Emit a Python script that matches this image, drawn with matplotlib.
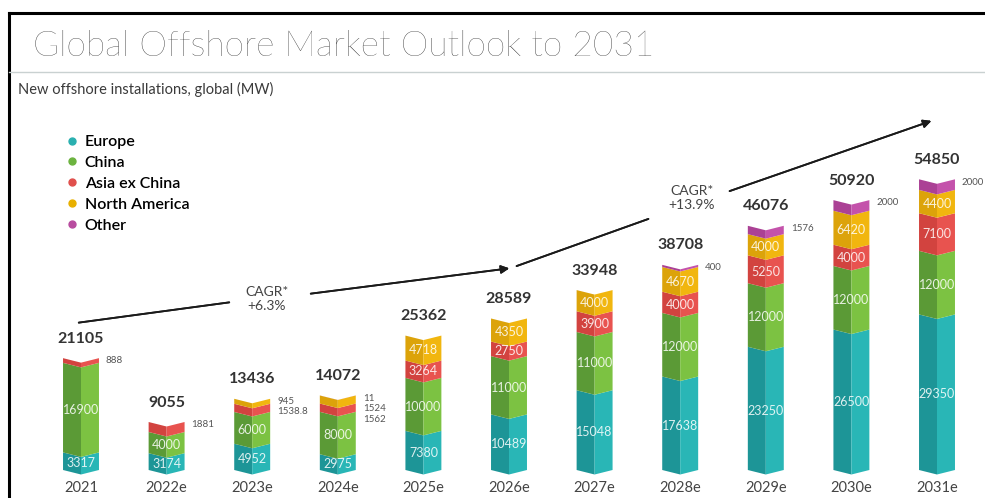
import matplotlib
matplotlib.use("Agg")
import matplotlib.pyplot as plt
from matplotlib.lines import Line2D
import numpy as np

plt.rcParams['font.family'] = ['Lato', 'DejaVu Sans']

# New offshore installations by region (MW)
years = ['2021', '2022e', '2023e', '2024e', '2025e', '2026e',
         '2027e', '2028e', '2029e', '2030e', '2031e']
europe = [3317, 3174, 4952, 2975, 7380, 10489, 15048, 17638, 23250, 26500, 29350]
china = [16900, 4000, 6000, 8000, 10000, 11000, 11000, 12000, 12000, 12000, 12000]
asia_ex_china = [888, 1881, 1538.8, 1562, 3264, 2750, 3900, 4000, 5250, 4000, 7100]
north_america = [0, 0, 945, 1524, 4718, 4350, 4000, 4670, 4000, 6420, 4400]
other = [0, 0, 0, 11, 0, 0, 0, 400, 1576, 2000, 2000]
totals = [21105, 9055, 13436, 14072, 25362, 28589, 33948, 38708, 46076, 50920, 54850]

regions = ['Europe', 'China', 'Asia ex China', 'North America', 'Other']
series = [europe, china, asia_ex_china, north_america, other]
# (dark left face, light right face)
faces = [('#1d9597', '#29b6b6'), ('#5b9a36', '#7cc242'), ('#d2433f', '#e8534f'),
         ('#dca30a', '#f1b60f'), ('#ab4195', '#c452ab')]
dots = ['#2ab0b0', '#6cb33f', '#e0504c', '#e8b000', '#b84c9f']

W, H = 985, 498
fig = plt.figure(figsize=(W / 100, H / 100), dpi=100)
ax = fig.add_axes([0, 0, 1, 1])
ax.axis('off')

# pixel geometry of the bar area
x0, dx = 81, 85.6          # centre of first bar, spacing
base, ppk = 470, 5.3       # baseline (px from top), px per 1000 MW
ax.set_xlim(-x0 / dx, (W - x0) / dx)
ax.set_ylim(-(H - base) / ppk * 1000, base / ppk * 1000)


def px(x, y):
    # figure pixels (origin top-left) -> figure fraction
    return x / W, 1 - y / H


half = 0.21      # half bar width in category units
notch = 850      # depth of the chevron fold in MW

for i in range(len(years)):
    lo = 0
    outside = []
    for k, vals in enumerate(series):
        v = vals[i]
        if v <= 0:
            continue
        hi = lo + v
        dark, light = faces[k]
        ax.fill([i - half, i, i, i - half], [lo, lo - notch, hi - notch, hi],
                color=dark, lw=0)
        ax.fill([i, i + half, i + half, i], [lo - notch, lo, hi, hi - notch],
                color=light, lw=0)
        if v >= 2500:
            ax.text(i, (lo + hi) / 2 - notch / 2, f"{v:g}", ha='center', va='center',
                    fontsize=9, color='white', alpha=0.85)
        else:
            outside.append(v)
        lo = hi
    # small shares listed beside the bar, top segment first
    for j, v in enumerate(outside[::-1]):
        ax.annotate(f"{v:g}", (i + half, lo), xytext=(5, -2 - 7.5 * j),
                    textcoords='offset points', ha='left', va='center',
                    fontsize=7, color='#555555')
    ax.annotate(f"{totals[i]}", (i, lo), xytext=(0, 14), textcoords='offset points',
                ha='center', va='center', fontsize=11.5, fontweight='bold', color='#333333')
    ax.annotate(years[i], (i, 0), xytext=(0, -13), textcoords='offset points',
                ha='center', va='center', fontsize=10.5, color='#444444')

# frame and header rule
fig.add_artist(Line2D([px(9, 0)[0], px(9, 0)[0]], [px(0, 13)[1], 0], color='black', lw=2.2))
fig.add_artist(Line2D([px(9, 0)[0], 1], [px(0, 13)[1], px(0, 13)[1]], color='black', lw=2.2))
fig.add_artist(Line2D([px(9, 0)[0], 1], [px(0, 72)[1], px(0, 72)[1]], color='#c9d1d1', lw=1))

fig.text(*px(33, 46), "Global Offshore Market Outlook to 2031", fontsize=25.5,
         fontweight='light', color='#222222', ha='left', va='center')
fig.text(*px(18, 89), "New offshore installations, global (MW)", fontsize=10.5,
         color='#3a3a3a', ha='left', va='center')

handles = [Line2D([], [], marker='o', ls='', color=c, markersize=5) for c in dots]
fig.legend(handles, regions, loc='upper left', bbox_to_anchor=px(56, 127),
           frameon=False, handletextpad=0.3, labelspacing=0.42,
           handlelength=1.0, borderpad=0,
           prop={'size': 11.5, 'weight': 'semibold'})

# CAGR arrows
arrow = dict(arrowstyle='-|>', color='#1a1a1a', lw=1.3, mutation_scale=12)
plain = dict(arrowstyle='-', color='#1a1a1a', lw=1.3)
fig.add_artist(plt.annotate('', xy=px(232, 302), xytext=px(76, 323),
                            xycoords='figure fraction', arrowprops=plain))
fig.add_artist(plt.annotate('', xy=px(512, 268), xytext=px(308, 294),
                            xycoords='figure fraction', arrowprops=arrow))
fig.add_artist(plt.annotate('', xy=px(651, 218), xytext=px(514, 267),
                            xycoords='figure fraction', arrowprops=plain))
fig.add_artist(plt.annotate('', xy=px(934, 120), xytext=px(727, 192),
                            xycoords='figure fraction', arrowprops=arrow))
fig.text(*px(267, 299), "CAGR*\n+6.3%", fontsize=10, color='#444444',
         ha='center', va='center', linespacing=1.2)
fig.text(*px(692, 198), "CAGR*\n+13.9%", fontsize=10, color='#444444',
         ha='center', va='center', linespacing=1.2)

fig.savefig('out.png', dpi=100)
